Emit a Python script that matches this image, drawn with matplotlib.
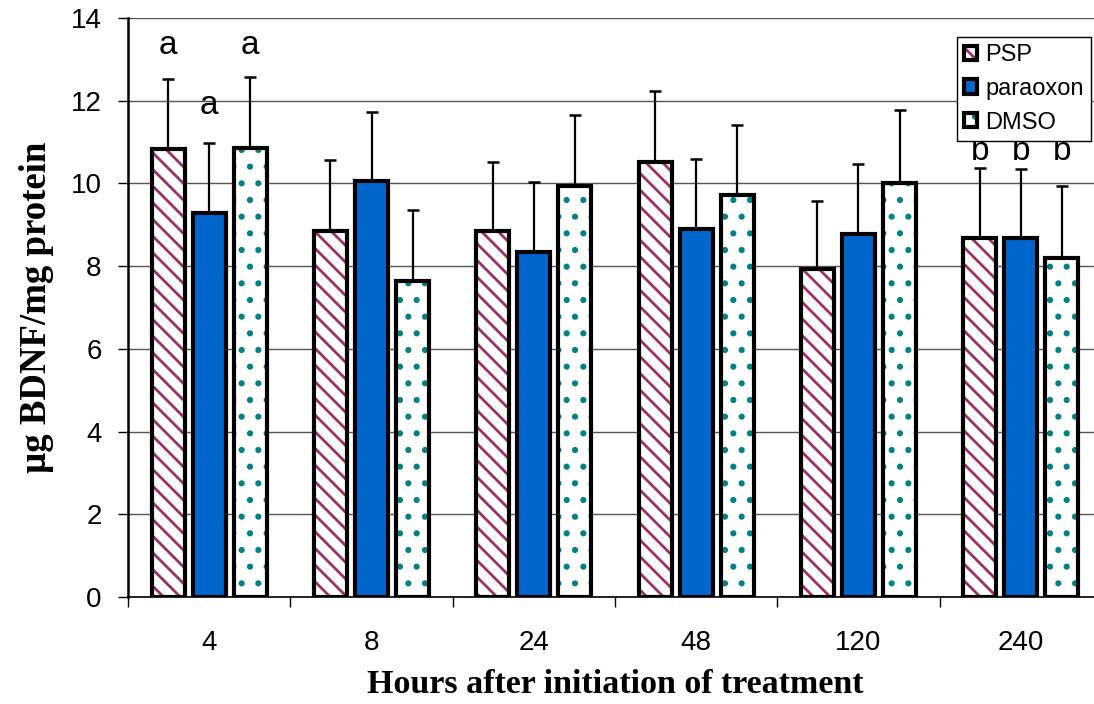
import matplotlib.pyplot as plt
import numpy as np
from matplotlib.legend_handler import HandlerTuple
from matplotlib.patches import Patch

# data
hours = ['4', '8', '24', '48', '120', '240']
series = ['PSP', 'paraoxon', 'DMSO']
psp = [10.84, 8.86, 8.86, 10.52, 7.92, 8.67]
psp_top = [12.53, 10.56, 10.52, 12.23, 9.57, 10.38]
paraoxon = [9.29, 10.07, 8.33, 8.89, 8.77, 8.67]
paraoxon_top = [10.97, 11.73, 10.03, 10.60, 10.48, 10.34]
dmso = [10.86, 7.65, 9.93, 9.72, 10.02, 8.19]
dmso_top = [12.57, 9.35, 11.65, 11.42, 11.78, 9.93]
# significance letters: (letter, group index, series index, label height)
letters = [('a', 0, 0, 12.95), ('a', 0, 1, 11.5), ('a', 0, 2, 12.95),
           ('b', 5, 0, 10.4), ('b', 5, 1, 10.4), ('b', 5, 2, 10.4)]

plt.rcParams['font.family'] = ['Liberation Sans', 'DejaVu Sans']
plt.rcParams['hatch.linewidth'] = 2.0

fig = plt.figure(figsize=(10.94, 7.04), dpi=100)
ax = fig.add_axes([128 / 1094, 1 - 597 / 704, 974 / 1094, 579 / 704])

x = np.arange(len(hours))
width = 0.204
step = 0.253
edge_lw = 3.0
styles = [('#993366', '\\\\'), (None, None), ('#008080', '.')]
values = [psp, paraoxon, dmso]
tops = [psp_top, paraoxon_top, dmso_top]
handles = []
for i, (vals, top, (hcol, hatch)) in enumerate(zip(values, tops, styles)):
    xs = x + (i - 1) * step
    vals = np.array(vals)
    if hatch is None:
        ax.bar(xs, vals, width, color='#0066cc', edgecolor='black',
               linewidth=edge_lw, zorder=2)
        h = Patch(facecolor='#0066cc', edgecolor='black', linewidth=edge_lw)
    else:
        ax.bar(xs, vals, width, facecolor='white', edgecolor=hcol,
               hatch=hatch, linewidth=0, zorder=2)
        ax.bar(xs, vals, width, facecolor='none', edgecolor='black',
               linewidth=edge_lw, zorder=3)
        h = (Patch(facecolor='white', edgecolor=hcol, hatch=hatch, linewidth=0),
             Patch(facecolor='none', edgecolor='black', linewidth=edge_lw))
    handles.append(h)
    ax.errorbar(xs, vals, yerr=[np.zeros(len(vals)), np.array(top) - vals],
                fmt='none', ecolor='black', elinewidth=1.6, capsize=4,
                capthick=1.8, zorder=4)

for letter, g, s, yv in letters:
    ax.text(x[g] + (s - 1) * step, yv, letter, ha='center', va='bottom',
            fontsize=24)

ax.set_xlim(-0.5, len(hours) - 0.5)
ax.set_ylim(0, 14)
ax.set_yticks(range(0, 15, 2))
ax.set_xticks(x)
ax.set_xticklabels(hours)
ax.set_xticks(np.arange(-0.5, len(hours), 1), minor=True)
ax.tick_params(axis='x', which='major', length=0, pad=24, labelsize=20)
ax.tick_params(axis='x', which='minor', length=7, width=1, direction='out')
ax.tick_params(axis='y', length=7, width=1, direction='out', labelsize=20,
               pad=12)
ax.yaxis.grid(True, color='#555555', linewidth=1)
ax.set_axisbelow(True)
for side in ['top', 'right']:
    ax.spines[side].set_visible(False)
ax.spines['left'].set_linewidth(1.8)
ax.spines['bottom'].set_linewidth(1.2)

ax.set_xlabel('Hours after initiation of treatment', fontsize=24.5,
              fontweight='bold', family='Liberation Serif', labelpad=9)
ax.set_ylabel('\u00b5g BDNF/mg protein', fontsize=26.5, fontweight='bold',
              family='Liberation Serif', labelpad=12)

leg = ax.legend(handles, series, handler_map={tuple: HandlerTuple(ndivide=1)},
                loc='upper left', bbox_to_anchor=(957 / 1094, 1 - 37 / 704),
                bbox_transform=fig.transFigure, fontsize=17, frameon=True,
                fancybox=False, edgecolor='black', framealpha=1,
                handlelength=0.55, handleheight=0.55, handletextpad=0.35,
                borderpad=0.3, borderaxespad=0, labelspacing=0.5)
leg.get_frame().set_linewidth(1)

fig.savefig('out.png', dpi=100)
